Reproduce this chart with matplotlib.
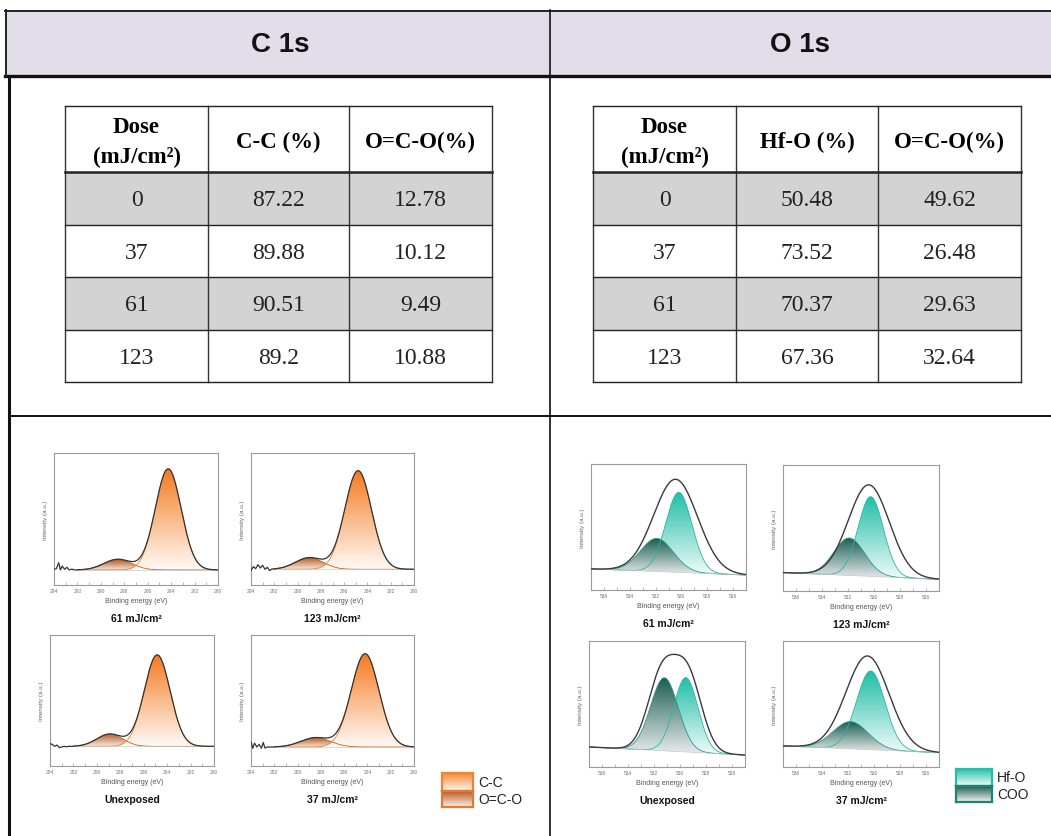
import numpy as np
import matplotlib
matplotlib.use("Agg")
import matplotlib.pyplot as plt
from matplotlib.patches import Rectangle
from matplotlib.colors import LinearSegmentedColormap

W, H = 1051, 837

# ---- table data ----
dose_labels = ["0", "37", "61", "123"]
c1s_cc_pct = ["87.22", "89.88", "90.51", "89.2"]
c1s_oco_pct = ["12.78", "10.12", "9.49", "10.88"]
o1s_hfo_pct = ["50.48", "73.52", "70.37", "67.36"]
o1s_oco_pct = ["49.62", "26.48", "29.63", "32.64"]
c1s_headers = ["C-C (%)", "O=C-O(%)"]
o1s_headers = ["Hf-O (%)", "O=C-O(%)"]

# ---- C 1s fit components (order: 61, 123, Unexposed, 37) ----
c1s_samples = ["61 mJ/cm²", "123 mJ/cm²", "Unexposed", "37 mJ/cm²"]
c1s_baseline = [0.114, 0.119, 0.150, 0.145]
c1s_cc_center = [284.25, 284.80, 284.85, 284.20]
c1s_cc_height = [0.766, 0.747, 0.698, 0.712]
c1s_cc_fwhm = [2.6, 2.7, 2.6, 2.8]
c1s_oco_center = [288.55, 289.0, 288.9, 288.45]
c1s_oco_height = [0.081, 0.088, 0.094, 0.071]
c1s_oco_fwhm = [2.8, 2.8, 2.6, 3.0]
# noisy start of the measured spectra (x, offset from baseline)
c1s_noise_x = [
    [294.0, 293.8, 293.6, 293.45, 293.3, 293.1, 292.9, 292.7, 292.5, 292.2, 292.0],
    [294.0, 293.8, 293.6, 293.4, 293.2, 293.0, 292.8, 292.6, 292.4, 292.2, 292.0],
    [294.0, 293.8, 293.6, 293.4, 293.2, 293.0, 292.8, 292.6, 292.4, 292.2, 292.0],
    [294.0, 293.85, 293.7, 293.5, 293.3, 293.1, 292.95, 292.8, 292.6, 292.3, 292.0],
]
c1s_noise_y = [
    [0.005, 0.01, 0.055, 0.0, 0.03, 0.005, 0.02, 0.0, 0.006, 0.0, 0.0],
    [-0.01, 0.02, 0.005, 0.035, 0.01, 0.03, 0.0, 0.015, -0.01, 0.003, 0.0],
    [0.02, 0.015, 0.0, 0.01, -0.01, -0.005, 0.0, -0.003, 0.0, 0.0, 0.0],
    [0.04, -0.01, 0.03, 0.0, 0.02, -0.01, 0.035, -0.008, 0.0, 0.0, 0.0],
]

# ---- O 1s fit components (order: 61, 123, Unexposed, 37) ----
o1s_samples = ["61 mJ/cm²", "123 mJ/cm²", "Unexposed", "37 mJ/cm²"]
o1s_bg_left = [0.167, 0.146, 0.159, 0.167]
o1s_bg_right = [0.119, 0.093, 0.095, 0.114]
o1s_hfo_center = [530.2, 530.25, 529.55, 530.25]
o1s_hfo_height = [0.635, 0.632, 0.590, 0.625]
o1s_hfo_fwhm = [2.4, 2.3, 2.2, 2.6]
o1s_coo_center = [531.9, 531.9, 531.2, 531.8]
o1s_coo_height = [0.263, 0.297, 0.580, 0.216]
o1s_coo_fwhm = [3.0, 2.8, 2.5, 3.2]
o1s_env_center = [[530.45], [530.4], [531.4, 529.4], [530.5]]
o1s_env_height = [[0.738], [0.726], [0.60, 0.60], [0.743]]
o1s_env_fwhm = [[4.0], [3.7], [2.5, 2.5], [3.9]]

c1s_ticks = [294, 292, 290, 288, 286, 284, 282, 280]
o1s_ticks = [536, 534, 532, 530, 528, 526]

# axes boxes in pixels (x0, y0, x1, y1)
c1s_boxes = [(54, 454, 218, 586), (251, 454, 414, 586), (50, 636, 214, 767), (251, 636, 414, 767)]
o1s_boxes = [(591, 465, 746, 591), (783, 466, 939, 592), (589, 642, 745, 768), (783, 642, 939, 768)]

SANS = ["Liberation Sans", "DejaVu Sans"]
SERIF = ["Liberation Serif", "DejaVu Serif"]
plt.rcParams["font.family"] = SANS


def gauss(x, c, h, fwhm):
    s = fwhm / 2.3548
    return h * np.exp(-(x - c) ** 2 / (2 * s * s))


def px_rect(x0, y0, x1, y1):
    return [x0 / W, 1 - y1 / H, (x1 - x0) / W, (y1 - y0) / H]


def grad_fill(ax, x, ylo, yhi, c_top, c_bot, z):
    poly = ax.fill_between(x, ylo, yhi, facecolor="none", edgecolor="none", zorder=z)
    cmap = LinearSegmentedColormap.from_list("g", [c_bot, c_top])
    grad = np.linspace(0, 1, 256).reshape(-1, 1)
    im = ax.imshow(grad, cmap=cmap, aspect="auto", origin="lower",
                   extent=[x.min(), x.max(), ylo.min(), yhi.max()],
                   zorder=z, interpolation="bilinear")
    im.set_clip_path(poly.get_paths()[0], transform=ax.transData)


def style_axes(ax, ticks, xlim):
    ax.set_xlim(*xlim)
    ax.set_ylim(0, 1)
    ax.set_xticks(ticks)
    ax.set_xticks([t - 1 for t in ticks[:-1]], minor=True)
    ax.set_yticks([])
    ax.tick_params(axis="x", which="both", direction="in", length=2, width=0.4,
                   color="#888888", labelsize=3.6, labelcolor="#777777", pad=2)
    for sp in ax.spines.values():
        sp.set_color("#9a9a9a")
        sp.set_linewidth(0.8)
    ax.set_xlabel("Binding energy (eV)", fontsize=5, color="#555555", labelpad=3)
    ax.set_ylabel("Intensity (a.u.)", fontsize=4.5, color="#666666", labelpad=4)


fig = plt.figure(figsize=(W / 100, H / 100), dpi=100)
fig.patch.set_facecolor("white")

bg = fig.add_axes([0, 0, 1, 1])
bg.set_xlim(0, W)
bg.set_ylim(H, 0)
bg.axis("off")

# frame
bg.add_patch(Rectangle((5, 11), W - 5, 65, facecolor="#e3ddea", edgecolor="none"))
bg.plot([5, W], [11.5, 11.5], color="#222222", lw=1.4)
bg.plot([5, W], [76.5, 76.5], color="#111111", lw=2.4)
bg.plot([5.5, 5.5], [11, 77], color="#222222", lw=1.4)
bg.plot([9, 9], [77, H], color="#111111", lw=2.2)
bg.plot([549.5, 549.5], [11, H], color="#111111", lw=1.2)
bg.plot([9, W], [417, 417], color="#111111", lw=1.4)
bg.text(280, 45, "C 1s", ha="center", va="center", fontsize=20, fontweight="bold", color="#111111")
bg.text(800, 45, "O 1s", ha="center", va="center", fontsize=20, fontweight="bold", color="#111111")


def draw_table(x_edges, headers, col1, col2):
    y_edges = [107, 173, 226, 278, 331, 383]
    for r in range(4):
        if r % 2 == 0:
            bg.add_patch(Rectangle((x_edges[0], y_edges[r + 1]), x_edges[-1] - x_edges[0],
                                   y_edges[r + 2] - y_edges[r + 1], facecolor="#d3d3d3", edgecolor="none"))
    for xe in x_edges:
        bg.plot([xe, xe], [y_edges[0], y_edges[-1]], color="#333333", lw=1.0)
    for i, ye in enumerate(y_edges):
        bg.plot([x_edges[0], x_edges[-1]], [ye, ye], color="#222222", lw=1.8 if i == 1 else 1.0)
    cx = [(x_edges[i] + x_edges[i + 1]) / 2 for i in range(3)]
    bg.text(cx[0], 127, "Dose", ha="center", va="center", fontsize=16.5, fontweight="bold", family=SERIF)
    bg.text(cx[0], 157, "(mJ/cm²)", ha="center", va="center", fontsize=16.5, fontweight="bold", family=SERIF)
    for j, h in enumerate(headers):
        bg.text(cx[j + 1], 142, h, ha="center", va="center", fontsize=16.5, fontweight="bold", family=SERIF)
    for r in range(4):
        yc = (y_edges[r + 1] + y_edges[r + 2]) / 2 + 1
        for j, v in enumerate([dose_labels[r], col1[r], col2[r]]):
            bg.text(cx[j], yc, v, ha="center", va="center", fontsize=17, family=SERIF, color="#222222")


draw_table([65, 208, 349, 492], c1s_headers, c1s_cc_pct, c1s_oco_pct)
draw_table([593, 736, 878, 1021], o1s_headers, o1s_hfo_pct, o1s_oco_pct)

# ---- C 1s spectra ----
for i, box in enumerate(c1s_boxes):
    ax = fig.add_axes(px_rect(*box))
    base = c1s_baseline[i]
    xm = np.linspace(292.0, 280.0, 600)
    cc = gauss(xm, c1s_cc_center[i], c1s_cc_height[i], c1s_cc_fwhm[i])
    oco = gauss(xm, c1s_oco_center[i], c1s_oco_height[i], c1s_oco_fwhm[i])
    b = np.full_like(xm, base)
    grad_fill(ax, xm, b, b + oco, "#b4541c", "#f5e6dc", 2)
    grad_fill(ax, xm, b, b + cc, "#f47a1f", "#fffaf6", 3)
    ax.plot(xm, b + oco, color="#c0601f", lw=0.6, zorder=4)
    ax.plot(xm, b + cc, color="#e9802e", lw=0.6, zorder=4)
    ax.plot(xm, b, color="#cccccc", lw=0.5, zorder=4)
    xs = np.concatenate([c1s_noise_x[i], xm[1:]])
    ys = np.concatenate([base + np.array(c1s_noise_y[i]), (b + cc + oco)[1:]])
    ax.plot(xs, ys, color="#333333", lw=0.9, zorder=5)
    style_axes(ax, c1s_ticks, (294, 280))
    cx = (box[0] + box[2]) / 2
    bg.text(cx, box[3] + 33, c1s_samples[i], ha="center", va="center", fontsize=7.5,
            fontweight="bold", color="#111111")

# ---- O 1s spectra ----
for i, box in enumerate(o1s_boxes):
    ax = fig.add_axes(px_rect(*box))
    xm = np.linspace(537.0, 525.0, 600)
    b = np.interp(xm, [525.0, 537.0], [o1s_bg_right[i], o1s_bg_left[i]])
    hfo = gauss(xm, o1s_hfo_center[i], o1s_hfo_height[i], o1s_hfo_fwhm[i])
    coo = gauss(xm, o1s_coo_center[i], o1s_coo_height[i], o1s_coo_fwhm[i])
    env = np.zeros_like(xm)
    for c, h, f in zip(o1s_env_center[i], o1s_env_height[i], o1s_env_fwhm[i]):
        env += gauss(xm, c, h, f)
    grad_fill(ax, xm, b, b + hfo, "#1fbea7", "#f2fbfa", 2)
    grad_fill(ax, xm, b, b + coo, "#195c52", "#eceeee", 3)
    ax.plot(xm, b + hfo, color="#2bb5a2", lw=0.6, zorder=4)
    ax.plot(xm, b + coo, color="#2a9a8a", lw=0.6, zorder=4)
    ax.plot(xm, b, color="#c8c8c8", lw=0.5, zorder=4)
    ax.plot(xm, b + env, color="#3a3a3a", lw=1.0, zorder=5)
    style_axes(ax, o1s_ticks, (537, 525))
    cx = (box[0] + box[2]) / 2
    bg.text(cx, box[3] + 33, o1s_samples[i], ha="center", va="center", fontsize=7.5,
            fontweight="bold", color="#111111")

# ---- legends ----
legend_items = [
    ((442, 774, 473, 792), "#f58a3a", "#fff6f0", "#ef8434", "C-C"),
    ((442, 792, 473, 808), "#bb5a22", "#fbf2ec", "#e07a34", "O=C-O"),
    ((956, 770, 992, 787), "#2cc2ad", "#f2fcfa", "#2bbba8", "Hf-O"),
    ((956, 787, 992, 803), "#1e5f56", "#f2f4f4", "#1f8274", "COO"),
]
for box, ctop, cbot, edge, label in legend_items:
    lax = fig.add_axes(px_rect(*box))
    cmap = LinearSegmentedColormap.from_list("lg", [cbot, ctop])
    lax.imshow(np.linspace(0, 1, 64).reshape(-1, 1), cmap=cmap, aspect="auto",
               origin="lower", extent=[0, 1, 0, 1])
    lax.set_xticks([])
    lax.set_yticks([])
    for sp in lax.spines.values():
        sp.set_color(edge)
        sp.set_linewidth(1.6)
    bg.text(box[2] + 5, (box[1] + box[3]) / 2, label, ha="left", va="center",
            fontsize=10, color="#222222")

fig.savefig("out.png", dpi=100)
